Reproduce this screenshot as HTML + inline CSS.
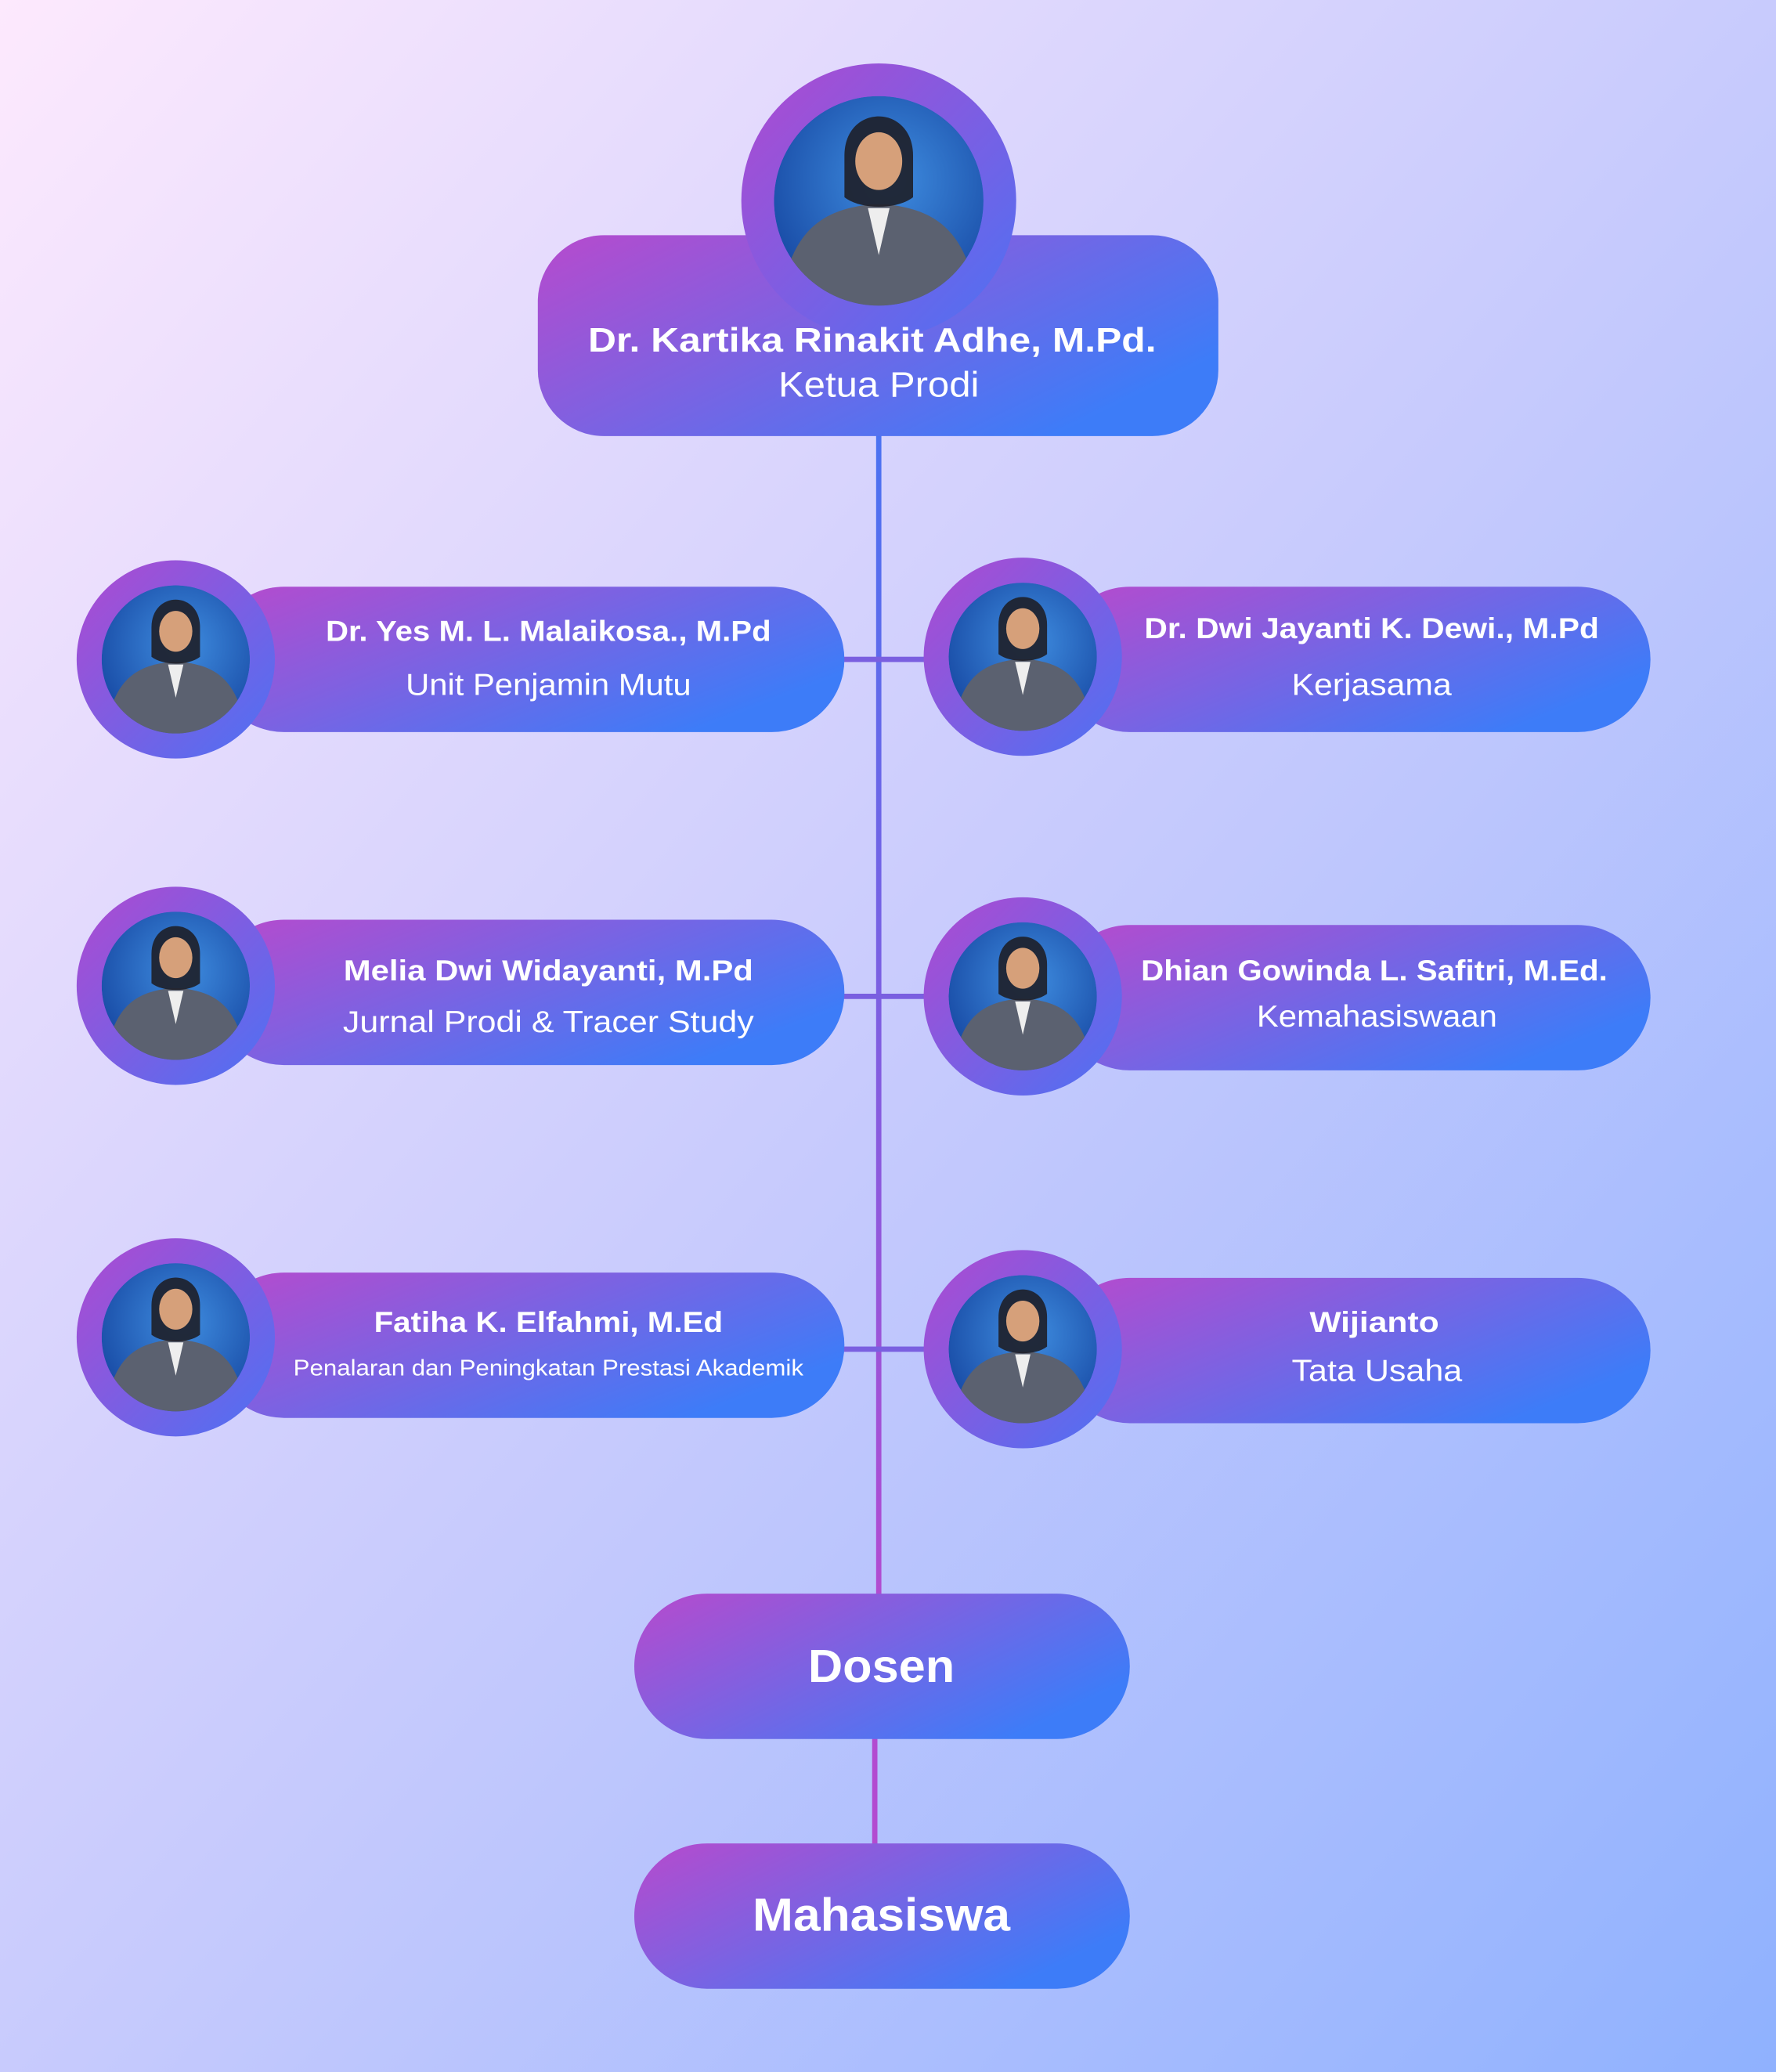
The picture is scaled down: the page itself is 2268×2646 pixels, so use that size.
<!DOCTYPE html>
<html><head><meta charset="utf-8"><style>
html,body{margin:0;padding:0;width:2268px;height:2646px;overflow:hidden}
svg{display:block}
.b{font-family:"Liberation Sans",sans-serif;font-weight:bold;fill:#fff}
.r{font-family:"Liberation Sans",sans-serif;fill:#fff}
</style></head><body>
<svg width="2268" height="2646" viewBox="0 0 1344 1568" xmlns="http://www.w3.org/2000/svg">
<defs>
<linearGradient id="bg" x1="0" y1="0" x2="1" y2="1">
<stop offset="0" stop-color="#fde9fd"/><stop offset="0.5" stop-color="#c8cbfd"/><stop offset="1" stop-color="#8fb1fe"/>
</linearGradient>
<linearGradient id="box" x1="0" y1="0" x2="1" y2="0.6">
<stop offset="0" stop-color="#b74acd"/><stop offset="1" stop-color="#3d7cf8"/>
</linearGradient>
<linearGradient id="ring" x1="0" y1="0" x2="1" y2="1">
<stop offset="0" stop-color="#b049d0"/><stop offset="1" stop-color="#4b72f4"/>
</linearGradient>
<linearGradient id="vl" x1="0" y1="0" x2="0" y2="1">
<stop offset="0" stop-color="#4a72f2"/><stop offset="1" stop-color="#b24bd0"/>
</linearGradient>
<radialGradient id="ph" cx="0.55" cy="0.4" r="0.6">
<stop offset="0" stop-color="#3f8de0"/><stop offset="1" stop-color="#1a4ea8"/>
</radialGradient>
<clipPath id="c1"><circle cx="0" cy="0" r="58"/></clipPath>
<symbol id="person" viewBox="-60 -60 120 120" overflow="visible">
<g clip-path="url(#c1)">
<circle cx="0" cy="0" r="58" fill="url(#ph)"/>
<path d="M-55 60 C-50 15 -30 5 -5 2 L5 2 C30 5 50 15 55 60 Z" fill="#5b6170"/>
<path d="M-6 4 L0 30 L6 4 Z" fill="#eee"/>
<path d="M-19 -25 C-19 -54 19 -54 19 -25 L19 -2 C10 5 -10 5 -19 -2 Z" fill="#1e1f28" opacity="0.9"/>
<ellipse cx="0" cy="-22" rx="13" ry="16" fill="#d6a07a"/>
</g>
</symbol>
</defs>
<rect width="1344" height="1568" fill="url(#bg)"/>
<rect x="663" y="325" width="4" height="885" fill="url(#vl)"/>
<rect x="660" y="1310" width="4" height="90" fill="#b24bd0"/>
<rect x="630" y="497" width="180" height="4" fill="#7a5fe0"/>
<rect x="630" y="752" width="180" height="4" fill="#7a5fe0"/>
<rect x="630" y="1019" width="180" height="4" fill="#7a5fe0"/>
<rect x="407" y="178" width="515" height="152" rx="50" fill="url(#box)"/>
<circle cx="665" cy="152" r="104" fill="url(#ring)"/>
<use href="#person" x="583" y="70" width="164" height="164"/>
<text x="660" y="266" text-anchor="middle" class="b" font-size="26" textLength="430" lengthAdjust="spacingAndGlyphs">Dr. Kartika Rinakit Adhe, M.Pd.</text>
<text x="665" y="300" text-anchor="middle" class="r" font-size="27" textLength="152" lengthAdjust="spacingAndGlyphs">Ketua Prodi</text>
<g>
<rect x="160" y="444" width="479" height="110" rx="55" fill="url(#box)"/>
<circle cx="133" cy="499" r="75" fill="url(#ring)"/>
<use href="#person" x="75" y="441" width="116" height="116"/>
<text x="415" y="485" text-anchor="middle" class="b" font-size="22" textLength="337" lengthAdjust="spacingAndGlyphs">Dr. Yes M. L. Malaikosa., M.Pd</text>
<text x="415" y="526" text-anchor="middle" class="r" font-size="23" textLength="216" lengthAdjust="spacingAndGlyphs">Unit Penjamin Mutu</text>

<rect x="160" y="696" width="479" height="110" rx="55" fill="url(#box)"/>
<circle cx="133" cy="746" r="75" fill="url(#ring)"/>
<use href="#person" x="75" y="688" width="116" height="116"/>
<text x="415" y="742" text-anchor="middle" class="b" font-size="22" textLength="310" lengthAdjust="spacingAndGlyphs">Melia Dwi Widayanti, M.Pd</text>
<text x="415" y="781" text-anchor="middle" class="r" font-size="23" textLength="311" lengthAdjust="spacingAndGlyphs">Jurnal Prodi &amp; Tracer Study</text>

<rect x="160" y="963" width="479" height="110" rx="55" fill="url(#box)"/>
<circle cx="133" cy="1012" r="75" fill="url(#ring)"/>
<use href="#person" x="75" y="954" width="116" height="116"/>
<text x="415" y="1008" text-anchor="middle" class="b" font-size="22" textLength="264" lengthAdjust="spacingAndGlyphs">Fatiha K. Elfahmi, M.Ed</text>
<text x="415" y="1041" text-anchor="middle" class="r" font-size="17" textLength="386" lengthAdjust="spacingAndGlyphs">Penalaran dan Peningkatan Prestasi Akademik</text>
</g>
<g>
<rect x="800" y="444" width="449" height="110" rx="55" fill="url(#box)"/>
<circle cx="774" cy="497" r="75" fill="url(#ring)"/>
<use href="#person" x="716" y="439" width="116" height="116"/>
<text x="1038" y="483" text-anchor="middle" class="b" font-size="22" textLength="344" lengthAdjust="spacingAndGlyphs">Dr. Dwi Jayanti K. Dewi., M.Pd</text>
<text x="1038" y="526" text-anchor="middle" class="r" font-size="23" textLength="121" lengthAdjust="spacingAndGlyphs">Kerjasama</text>

<rect x="800" y="700" width="449" height="110" rx="55" fill="url(#box)"/>
<circle cx="774" cy="754" r="75" fill="url(#ring)"/>
<use href="#person" x="716" y="696" width="116" height="116"/>
<text x="1040" y="742" text-anchor="middle" class="b" font-size="22" textLength="353" lengthAdjust="spacingAndGlyphs">Dhian Gowinda L. Safitri, M.Ed.</text>
<text x="1042" y="777" text-anchor="middle" class="r" font-size="23" textLength="182" lengthAdjust="spacingAndGlyphs">Kemahasiswaan</text>

<rect x="800" y="967" width="449" height="110" rx="55" fill="url(#box)"/>
<circle cx="774" cy="1021" r="75" fill="url(#ring)"/>
<use href="#person" x="716" y="963" width="116" height="116"/>
<text x="1040" y="1008" text-anchor="middle" class="b" font-size="22" textLength="98" lengthAdjust="spacingAndGlyphs">Wijianto</text>
<text x="1042" y="1045" text-anchor="middle" class="r" font-size="23" textLength="129" lengthAdjust="spacingAndGlyphs">Tata Usaha</text>
</g>
<rect x="480" y="1206" width="375" height="110" rx="55" fill="url(#box)"/>
<text x="667" y="1273" text-anchor="middle" class="b" font-size="35" textLength="111" lengthAdjust="spacingAndGlyphs">Dosen</text>
<rect x="480" y="1395" width="375" height="110" rx="55" fill="url(#box)"/>
<text x="667" y="1461" text-anchor="middle" class="b" font-size="35" textLength="195" lengthAdjust="spacingAndGlyphs">Mahasiswa</text>
</svg>
</body></html>
